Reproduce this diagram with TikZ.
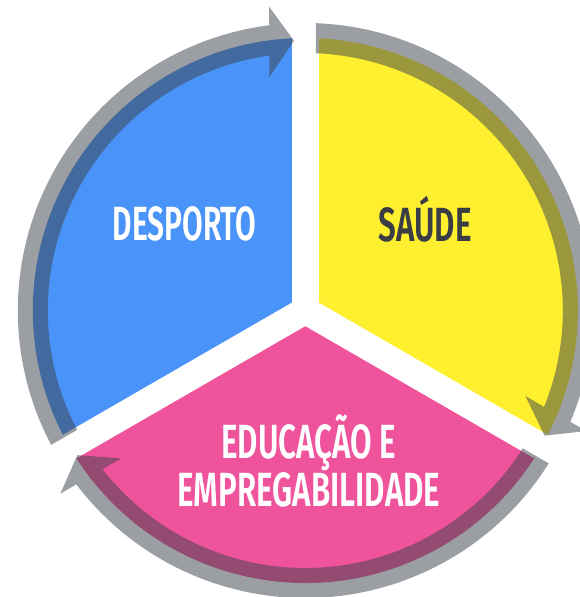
\documentclass[tikz,border=0pt]{standalone}
\usepackage{fontspec}
\setmainfont{Fira Sans}
\newfontfamily\labfont{Fira Sans SemiBold}
\usepackage{graphicx}
\definecolor{cblue}{RGB}{74,147,248}
\definecolor{cyellow}{RGB}{255,240,47}
\definecolor{cpink}{RGB}{239,83,155}
\definecolor{cband}{RGB}{60,68,76}
\definecolor{ctext}{RGB}{58,62,68}
\tikzset{
  band/.style={fill=cband, fill opacity=0.514},
  lab/.style={anchor=base, inner sep=0pt, font=\labfont\fontsize{48}{48}\selectfont},
  gapline/.style={draw=white, line width=27pt},
}
\begin{document}
\begin{tikzpicture}[x=1pt,y=1pt]
\useasboundingbox (0,0) rectangle (580,597);
\clip (0,0) rectangle (580,597);
\begin{scope}[shift={(305.3,286.5)}]
  \fill[cblue] (0,0) -- (90:272.5) arc[start angle=90,end angle=210,radius=272.5] -- cycle;
  \fill[cyellow] (0,0) -- (-30:272.5) arc[start angle=-30,end angle=90,radius=272.5] -- cycle;
  \fill[cpink] (0,0) -- (210:272.5) arc[start angle=210,end angle=330,radius=272.5] -- cycle;
  \foreach \a in {90,210,330} \draw[gapline] (0,0) -- (\a:300);
  \foreach \r in {0,-120,120} {
    \begin{scope}[rotate=\r]
      \fill[band] (207.87:287.5) arc[start angle=207.87, end angle=97.2, radius=287.5]
        -- (96.8:306) -- (92.4:270) -- (98.8:236) -- (98.0:257.5)
        arc[start angle=98.0, end angle=207.62, radius=257.5] -- cycle;
    \end{scope}
  }
\end{scope}
\node[lab, text=white] (desp) at (184.6,356.3) {\resizebox{144pt}{\height}{DESPORTO}};
\node[lab, text=ctext] (saude) at (425.3,355.3) {\resizebox{93pt}{\height}{SAÚDE}};
\node[lab, text=white] (edu) at (308.9,138.3) {\resizebox{175pt}{\height}{EDUCAÇÃO E}};
\node[lab, text=white] (emp) at (308.9,90.7) {\resizebox{263pt}{\height}{EMPREGABILIDADE}};
\end{tikzpicture}
\end{document}
